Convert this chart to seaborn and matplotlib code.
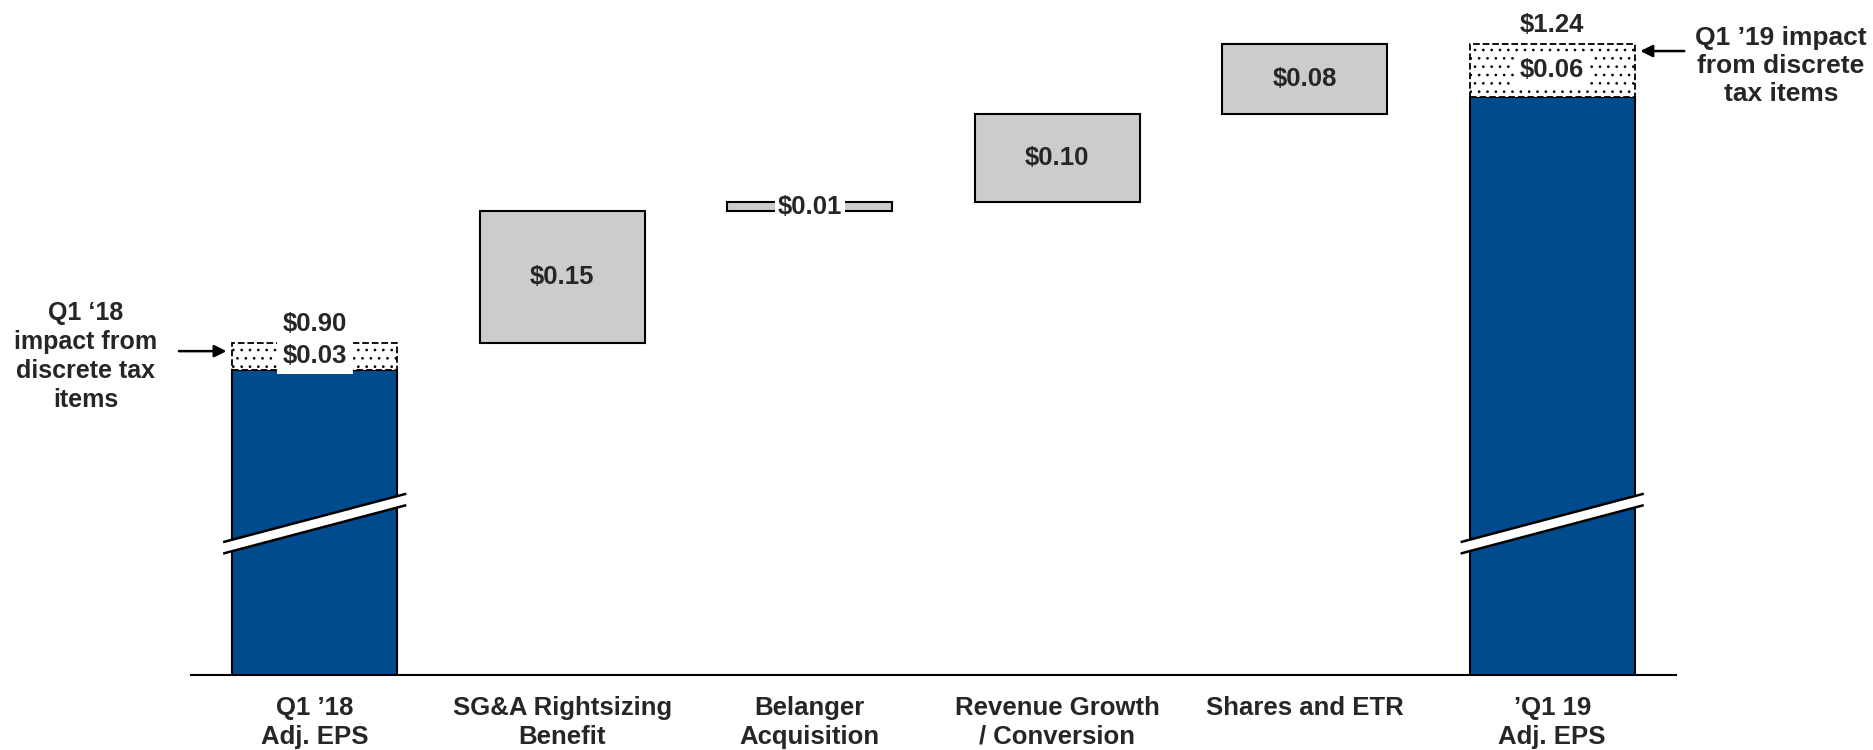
import numpy as np
import pandas as pd
import matplotlib.pyplot as plt
import seaborn as sns

# Chart data
categories = ["Q1 \u201918\nAdj. EPS", "SG&A Rightsizing\nBenefit", "Belanger\nAcquisition",
              "Revenue Growth\n/ Conversion", "Shares and ETR", "\u2019Q1 19\nAdj. EPS"]
start_eps = 0.90
end_eps = 1.24
tax_start = 0.03
tax_end = 0.06
steps = [0.15, 0.01, 0.10, 0.08]

blue = '#004b8d'
gray = '#cccccc'
bar_w = 0.667

sns.set_style('white')
plt.rcParams['font.family'] = ['Liberation Sans', 'DejaVu Sans']
plt.rcParams['font.weight'] = 'bold'
plt.rcParams['hatch.linewidth'] = 0.7

fig, ax = plt.subplots(figsize=(18.74, 7.5), dpi=100)
fig.subplots_adjust(left=0.1019, right=0.8943, bottom=0.1, top=1.0)

# Blue totals (ex discrete tax items) drawn with seaborn
base = [start_eps - tax_start, 0, 0, 0, 0, end_eps - tax_end]
df_totals = pd.DataFrame({'label': categories, 'base': base})
sns.barplot(data=df_totals, x='label', y='base', order=categories, color=blue,
            saturation=1, width=bar_w, edgecolor='black', linewidth=1.5, ax=ax)

# Floating step bars
bottoms = start_eps + np.concatenate([[0], np.cumsum(steps)[:-1]])
idx = np.arange(1, len(steps) + 1)
ax.bar(idx, steps, bottom=bottoms, width=bar_w, color=gray, edgecolor='black',
       linewidth=1.5, zorder=3)
for i, b, h in zip(idx, bottoms, steps):
    box = dict(facecolor='white', edgecolor='none', pad=2) if h < 0.03 else None
    ax.text(i, b + h / 2, f'${h:.2f}', ha='center', va='center', fontsize=18.5,
            fontweight='bold', bbox=box, zorder=6)

# Discrete tax segments (dotted)
tax_x = [0, len(categories) - 1]
tax_h = [tax_start, tax_end]
tax_b = [start_eps - tax_start, end_eps - tax_end]
ax.bar(tax_x, tax_h, bottom=tax_b, width=bar_w, facecolor='white', edgecolor='black',
       hatch='..', linestyle='--', linewidth=1.3, zorder=3)
for x, b, h in zip(tax_x, tax_b, tax_h):
    ax.text(x, b + h / 2, f'${h:.2f}', ha='center', va='center', fontsize=18.5,
            fontweight='bold', zorder=7,
            bbox=dict(facecolor='white', edgecolor='none', pad=4))

# Totals above bars
for x, v in zip(tax_x, [start_eps, end_eps]):
    ax.text(x, v + 0.022, f'${v:.2f}', ha='center', va='center', fontsize=18.5,
            fontweight='bold')

# Axis break marks on total bars
brk, rise, gap, half = 0.695, 0.055, 0.013, 0.37
for x in tax_x:
    xs = np.array([x - half, x + half])
    upper = np.array([brk - rise / 2, brk + rise / 2]) + gap / 2
    lower = upper - gap
    ax.fill_between(xs, lower, upper, color='white', zorder=8, lw=0)
    ax.plot(xs, upper, color='black', lw=1.8, zorder=9, solid_capstyle='butt')
    ax.plot(xs, lower, color='black', lw=1.8, zorder=9, solid_capstyle='butt')

# Call-outs
arrow = dict(arrowstyle='-|>', color='black', lw=1.8, mutation_scale=18)
ax.text(-0.925, 0.885, 'Q1 \u201818\nimpact from\ndiscrete tax\nitems', ha='center',
        va='center', fontsize=18, fontweight='bold', linespacing=1.27)
ax.annotate('', xy=(-0.345, 0.891), xytext=(-0.56, 0.891), arrowprops=arrow,
            annotation_clip=False)
ax.text(5.925, 1.215, 'Q1 \u201919 impact\nfrom discrete\ntax items', ha='center',
        va='center', fontsize=19, fontweight='bold', linespacing=1.2)
ax.annotate('', xy=(5.345, 1.232), xytext=(5.545, 1.232), arrowprops=arrow,
            annotation_clip=False)

ax.set_xlim(-0.5, 5.5)
ax.set_ylim(0.523, 1.29)
ax.set_yticks([])
ax.set_xlabel('')
ax.set_ylabel('')
ax.tick_params(axis='x', length=0, pad=15, labelsize=18.5)
for lbl in ax.get_xticklabels():
    lbl.set_fontweight('bold')
    lbl.set_linespacing(1.27)
sns.despine(ax=ax, left=True)
ax.spines['bottom'].set_color('black')
ax.spines['bottom'].set_linewidth(1.5)

fig.savefig('out.png', dpi=100)
